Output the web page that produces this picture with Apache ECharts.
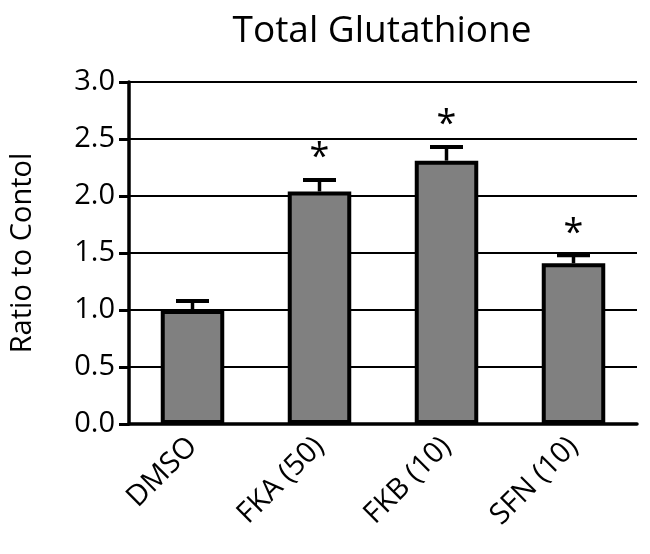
<!DOCTYPE html>
<html>
<head>
<meta charset="utf-8">
<script src="https://cdn.jsdelivr.net/npm/echarts@6/dist/echarts.min.js"></script>
<style>html,body{margin:0;padding:0;background:#fff}#c{width:650px;height:554px}</style>
</head>
<body>
<div id="c"></div>
<script>
var categories = ['DMSO', 'FKA (50)', 'FKB (10)', 'SFN (10)'];
var means = [1.0, 2.04, 2.31, 1.41];
var errors = [0.08, 0.10, 0.12, 0.07];
var marks = ['', '*', '*', '*'];
var yTicks = [0, 0.5, 1.0, 1.5, 2.0, 2.5, 3.0];

var FONT = '"Open Sans", "Noto Sans", sans-serif';
var chart = echarts.init(document.getElementById('c'), null, {renderer: 'canvas'});

var errData = categories.map(function (c, i) { return [i, means[i], means[i] + errors[i], marks[i]]; });

chart.setOption({
  animation: false,
  backgroundColor: '#fff',
  title: {
    text: 'Total Glutathione',
    left: 377, top: 8, textAlign: 'center',
    textStyle: {fontFamily: FONT, fontSize: 37, fontWeight: 'normal', color: '#000'}
  },
  grid: {left: 121, right: 13, top: 82, bottom: 130},
  xAxis: {
    type: 'category',
    data: categories,
    axisLine: {lineStyle: {color: '#000', width: 3.5}},
    axisTick: {alignWithLabel: true, length: 9, lineStyle: {color: '#000', width: 3}},
    axisLabel: {rotate: 45, fontFamily: FONT, fontSize: 29, color: '#000', margin: 18}
  },
  yAxis: {
    type: 'value',
    min: yTicks[0], max: yTicks[yTicks.length - 1], interval: 0.5,
    name: 'Ratio to Contol',
    nameLocation: 'middle',
    nameGap: 92,
    nameTextStyle: {fontFamily: FONT, fontSize: 29, color: '#000'},
    axisLine: {show: true, lineStyle: {color: '#000', width: 3.5}},
    axisTick: {show: true, length: 10, lineStyle: {color: '#000', width: 3}},
    axisLabel: {fontFamily: FONT, fontSize: 29, color: '#000', margin: 14,
      formatter: function (v) { return v.toFixed(1); }},
    splitLine: {show: true, lineStyle: {color: '#000', width: 2}}
  },
  series: [
    {
      type: 'bar',
      data: means,
      barWidth: '50%',
      itemStyle: {color: '#808080', borderColor: '#000', borderWidth: 4},
      z: 2
    },
    {
      type: 'custom',
      data: errData,
      z: 3,
      renderItem: function (params, api) {
        var x = api.value(0);
        var top = api.coord([x, api.value(2)]);
        var base = api.coord([x, api.value(1)]);
        var half = 16.5;
        var children = [
          {type: 'line', shape: {x1: top[0], y1: base[1], x2: top[0], y2: top[1]}, style: {stroke: '#000', lineWidth: 3.5}},
          {type: 'line', shape: {x1: top[0] - half, y1: top[1], x2: top[0] + half, y2: top[1]}, style: {stroke: '#000', lineWidth: 4}}
        ];
        var m = api.value(3);
        if (m) {
          children.push({type: 'text', x: top[0], y: top[1] - 22,
            style: {text: m, fontFamily: FONT, fontSize: 36, fill: '#000', align: 'center', verticalAlign: 'middle'}});
        }
        return {type: 'group', children: children};
      }
    }
  ]
});
</script>
</body>
</html>
